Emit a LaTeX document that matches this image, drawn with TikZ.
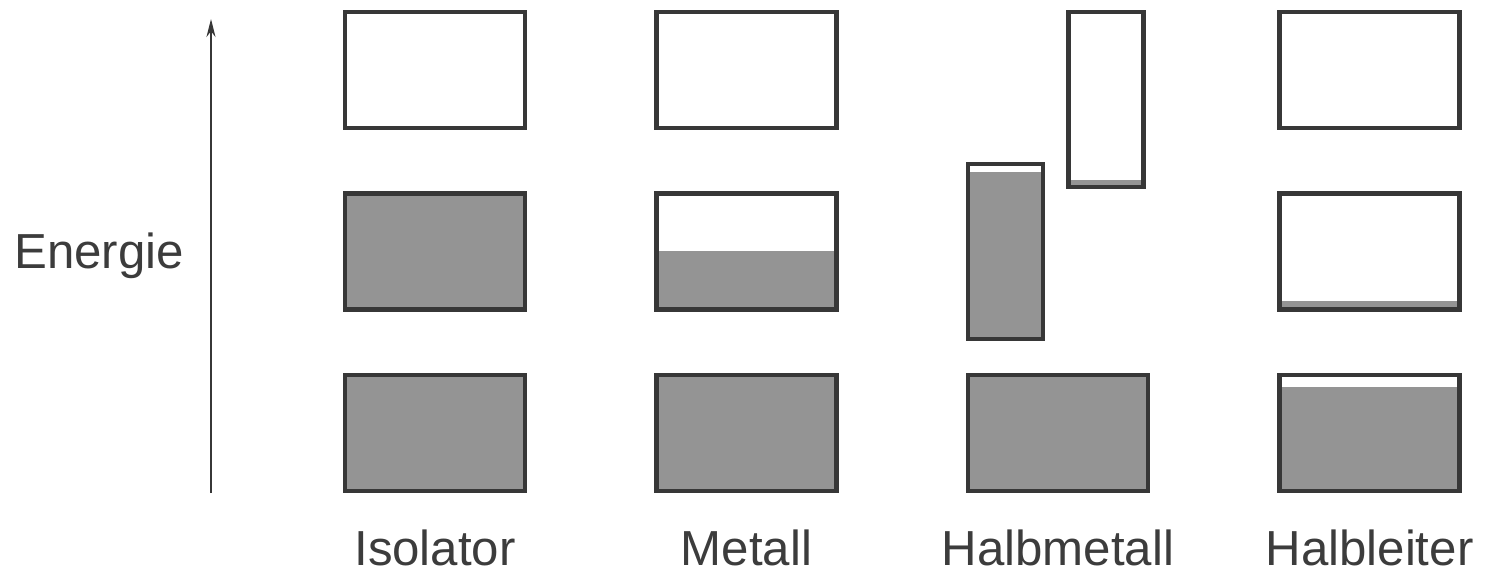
\documentclass[tikz,border=0pt]{standalone}
\usepackage{fontspec}
\setmainfont{Liberation Sans}
\usetikzlibrary{backgrounds}
\usetikzlibrary{positioning}
\usetikzlibrary{calc}
\usetikzlibrary{arrows.meta}
\definecolor{bandgray}{RGB}{148,148,148}
\definecolor{linegray}{RGB}{55,55,55}
\definecolor{textgray}{RGB}{60,60,60}

\begin{document}
\begin{tikzpicture}[
            > = {Stealth[length=1.8mm,width=0.9mm]}, % arrow head style
            node distance = 1.815cm, % distance between rows
            band/.style = {draw = linegray, line width = 1.3pt, minimum width = 1.80cm, minimum height = 1.16cm, inner sep = 0pt},
            full/.style = {band, fill = bandgray},
            narrow/.style = {band, minimum width = 0.75cm, minimum height = 1.75cm},
            lbl/.style = {text = textgray, font = \fontsize{14}{16}\selectfont, inner sep = 0pt}
        ]

        \useasboundingbox (0,0) rectangle (14.87,5.77);

	% Isolator
        \node[band] (iso3) at (4.35,5.07) {};
        \node[full] (iso2) [below of=iso3] {};
        \node[full] (iso1) [below of=iso2] {};

	% Metall
        \node[band] (met3) at (7.465,5.07) {};
        \node[band] (met2) [below of=met3] {};
        \node[full] (met1) [below of=met2] {};

	% Halbmetall
        \node[full] (hm1) at (10.58,1.44) {};
        \node[narrow] (hmv) at (10.055,3.255) {};
        \node[narrow] (hmc) at (11.06,4.775) {};

	% Halbleiter
        \node[band] (hl3) at (13.695,5.07) {};
        \node[band] (hl2) [below of=hl3] {};
        \node[band] (hl1) [below of=hl2] {};

        % partly filled bands
        \begin{scope}[on background layer]
        \fill[bandgray] (met2.south west) rectangle ($(met2.south east)!0.5!(met2.north east)$);
        \fill[bandgray] (hmv.south west) rectangle ($(hmv.south east)!0.94!(hmv.north east)$);
        \fill[bandgray] (hmc.south west) rectangle ($(hmc.south east)!0.05!(hmc.north east)$);
        \fill[bandgray] (hl2.south west) rectangle ($(hl2.south east)!0.09!(hl2.north east)$);
        \fill[bandgray] (hl1.south west) rectangle ($(hl1.south east)!0.88!(hl1.north east)$);
        \end{scope}

        % energy axis
        \coordinate (e0) at (2.11,0.84);
        \coordinate (e1) at (2.11,5.58);
        \draw[->, draw = linegray, line width = 0.6pt] (e0) -- (e1);
        \node[lbl] (energie) at (0.99,3.21) {Energie};

        % labels
        \node[lbl, anchor = north] (isoL) [below=0.36cm of iso1.south] {Isolator};
        \node[lbl, anchor = north] (metL) [below=0.36cm of met1.south] {Metall};
        \node[lbl, anchor = north] (hmL) [below=0.36cm of hm1.south] {Halbmetall};
        \node[lbl, anchor = north] (hlL) [below=0.36cm of hl1.south] {Halbleiter};

  \end{tikzpicture}
\end{document}
